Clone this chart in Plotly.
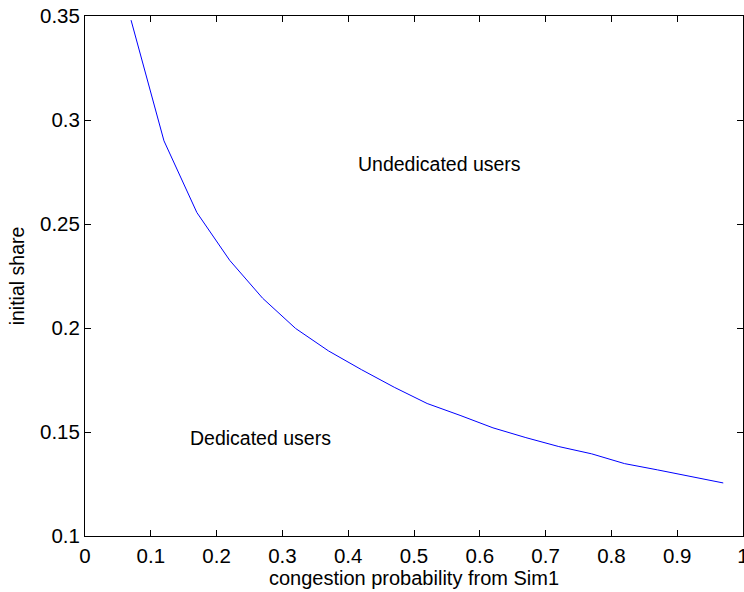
import plotly.graph_objects as go

# Data
congestion_prob = [0.07, 0.12, 0.17, 0.22, 0.27, 0.32, 0.37, 0.42, 0.47, 0.52,
                   0.57, 0.62, 0.67, 0.72, 0.77, 0.82, 0.87, 0.92, 0.97]
initial_share = [0.348, 0.290, 0.2555, 0.2325, 0.2143, 0.1998, 0.189, 0.180, 0.1715, 0.1637,
                 0.158, 0.152, 0.1473, 0.143, 0.1395, 0.1348, 0.1318, 0.1285, 0.1255]

x_ticks = [0, 0.1, 0.2, 0.3, 0.4, 0.5, 0.6, 0.7, 0.8, 0.9, 1]
x_tick_labels = ["0", "0.1", "0.2", "0.3", "0.4", "0.5", "0.6", "0.7", "0.8", "0.9", "1"]
y_ticks = [0.1, 0.15, 0.2, 0.25, 0.3, 0.35]
y_tick_labels = ["0.1", "0.15", "0.2", "0.25", "0.3", "0.35"]

region_labels = ["Undedicated users", "Dedicated users"]
region_x = [0.539, 0.2665]
region_y = [0.2788, 0.1473]

FONT = "Liberation Sans, Arial, sans-serif"
FS = 19.5
TICK_FS = 20.5

fig = go.Figure()
fig.add_trace(go.Scatter(
    x=congestion_prob, y=initial_share, mode="lines",
    line=dict(color="#0000FF", width=1), showlegend=False, hoverinfo="skip"))

for txt, xv, yv in zip(region_labels, region_x, region_y):
    fig.add_annotation(x=xv, y=yv, text=txt, showarrow=False,
                       xanchor="center", yanchor="middle",
                       font=dict(family=FONT, size=FS, color="black"))

axis_common = dict(showgrid=False, zeroline=False, showline=True, linecolor="black",
                   linewidth=1, mirror="ticks", ticks="inside", ticklen=6,
                   tickcolor="black", tickwidth=1, ticklabeloverflow="allow",
                   tickfont=dict(family=FONT, size=TICK_FS, color="black"))

fig.update_xaxes(range=[0, 1], tickvals=x_ticks, ticktext=x_tick_labels,
                 ticklabelstandoff=1,
                 title=dict(text="congestion probability from Sim1", standoff=1,
                            font=dict(family=FONT, size=20, color="black")),
                 **axis_common)
fig.update_yaxes(range=[0.1, 0.35], tickvals=y_ticks, ticktext=y_tick_labels,
                 ticklabelstandoff=0,
                 title=dict(text="initial share", standoff=10,
                            font=dict(family=FONT, size=FS, color="black")),
                 **axis_common)

fig.update_layout(width=744, height=592, autosize=False,
                  margin=dict(l=85, r=1, t=16, b=56, autoexpand=False),
                  paper_bgcolor="white", plot_bgcolor="white",
                  font=dict(family=FONT, size=FS, color="black"))

fig.write_html("out.html", config={"displayModeBar": False},
               post_script="document.body.style.margin='0';document.body.style.overflow='hidden';")
